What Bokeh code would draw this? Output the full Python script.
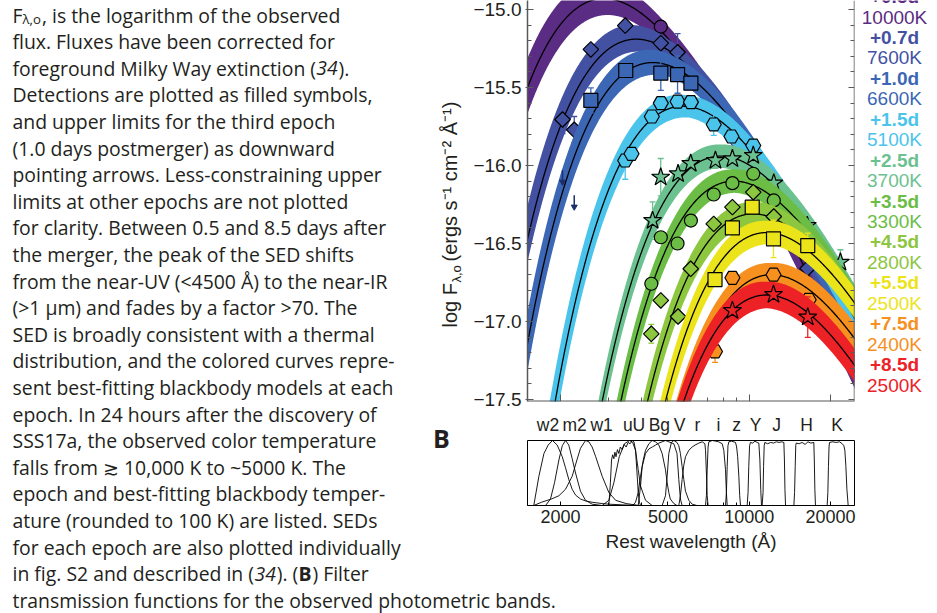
import numpy as np
from bokeh.plotting import figure
from bokeh.models import (Range1d, LinearAxis, LogAxis, FixedTicker, Label,
                          CustomJSTickFormatter, BasicTickFormatter)
from bokeh.layouts import column, row
from bokeh.embed import file_html
from bokeh.resources import INLINE

# ----------------------------------------------------------------- data
epoch_labels = ["+0.5d", "+0.7d", "+1.0d", "+1.5d", "+2.5d", "+3.5d", "+4.5d", "+5.5d", "+7.5d", "+8.5d"]
temperatures = [10000, 7600, 6600, 5100, 3700, 3300, 2800, 2500, 2400, 2500]
peak_logf = [-14.93, -15.19, -15.34, -15.62, -15.94, -16.10, -16.31, -16.43, -16.70, -16.83]
temp_low = [9700, 7450, 6450, 5000, 3650, 3250, 2750, 2450, 2350, 2450]
temp_high = [10400, 7900, 6800, 5250, 3750, 3350, 2850, 2550, 2450, 2550]
pivot_lam = [5000, 5000, 5400, 6000, 7800, 8800, 10300, 11600, 12000, 11600]
band_halfwidth = [0.08, 0.07, 0.07, 0.07, 0.075, 0.075, 0.075, 0.075, 0.075, 0.085]
epoch_colors = ["#5b2c83", "#4351a3", "#3c67b5", "#4bc4eb", "#6cc190",
                "#6bbd45", "#8dc63f", "#ece41b", "#f6901e", "#ec2227"]
epoch_markers = ["circle", "diamond", "square", "hex", "star",
                 "circle", "diamond", "square", "hex", "star"]

lam_05 = [4704]
flux_05 = [-15.11]
err_05 = [0.0]
lam_07 = [2034, 2248, 2590, 3472, 4704, 5426, 16440]
flux_07 = [-15.705, -15.771, -15.256, -15.103, -15.216, -15.274, -16.66]
err_07 = [0.09, 0.085, 0.0, 0.0, 0.0, 0.12, 0.0]
lam_10 = [2590, 3488, 4704, 5426, 6080]
flux_10 = [-15.583, -15.391, -15.408, -15.417, -15.472]
err_10 = [0.08, 0.0, 0.11, 0.12, 0.0]
ul_lam_10 = [2034, 2248]
ul_flux_10 = [-16.03, -16.19]
lam_15 = [3472, 3664, 4357, 4704, 5426, 6080, 7386, 8594, 10348]
flux_15 = [-15.968, -15.925, -15.686, -15.600, -15.590, -15.594, -15.737, -15.814, -15.872]
err_15 = [0.12, 0.0, 0.0, 0.0, 0.0, 0.0, 0.07, 0.0, 0.0]
lam_25 = [4386, 4700, 5450, 6070, 7494, 8662, 10348, 12328, 16400, 21760]
flux_25 = [-16.353, -16.075, -16.053, -15.987, -15.968, -15.957, -15.936, -16.113, -16.385, -16.62]
err_25 = [0.12, 0.12, 0.0, 0.0, 0.05, 0.08, 0.0, 0.06, 0.0, 0.08]
lam_35 = [4338, 4704, 5426, 6080, 7386, 8662, 10348, 12328]
flux_35 = [-16.758, -16.46, -16.50, -16.353, -16.186, -16.113, -16.053, -16.224]
err_35 = [0.0, 0.0, 0.0, 0.0, 0.0, 0.0, 0.0, 0.0]
lam_45 = [4338, 4704, 5450, 6070, 7386, 8662, 10348, 12328]
flux_45 = [-17.079, -16.865, -16.968, -16.662, -16.374, -16.267, -16.171, -16.327]
err_45 = [0.06, 0.0, 0.0, 0.0, 0.0, 0.0, 0.0, 0.0]
lam_55 = [7468, 8662, 10258, 12300, 16470]
flux_55 = [-16.731, -16.40, -16.267, -16.47, -16.513]
err_55 = [0.0, 0.0, 0.0, 0.12, 0.08]
lam_75 = [7468, 8662, 12300, 16600]
flux_75 = [-17.192, -16.72, -16.70, -16.861]
err_75 = [0.07, 0.0, 0.0, 0.0]
lam_85 = [8662, 12300, 16470]
flux_85 = [-16.93, -16.827, -16.972]
err_85 = [0.0, 0.0, 0.13]

ytick_values = [-17.5, -17.0, -16.5, -16.0, -15.5, -15.0]

band_names = ["w2", "m2", "w1", "u", "U", "B", "g", "V", "r", "i", "z", "Y", "J", "H", "K"]
band_label_lam = [1798, 2254, 2838, 3550, 3900, 4460, 4880, 5518, 6434, 7694, 8972, 10552, 12619, 16302, 21140]

f_w2_lam = [1592, 1663, 1736, 1800, 1867, 1944, 2030, 2087, 2146, 2209, 2273, 2371, 2475, 2619, 2853, 3020, 3400, 3880]
f_w2_tr = [0, 0.45, 0.8, 0.93, 1.0, 0.93, 0.75, 0.58, 0.4, 0.25, 0.16, 0.1, 0.07, 0.05, 0.03, 0.02, 0.01, 0]
f_m2_lam = [1760, 1836, 1900, 1972, 2030, 2087, 2146, 2209, 2273, 2371, 2475, 2619, 2853]
f_m2_tr = [0, 0.1, 0.35, 0.7, 0.92, 1.0, 0.93, 0.72, 0.5, 0.22, 0.08, 0.02, 0]
f_w1_lam = [1592, 1700, 1850, 1972, 2087, 2209, 2300, 2371, 2475, 2546, 2619, 2700, 2853, 3020, 3200, 3500, 3900]
f_w1_tr = [0, 0.05, 0.1, 0.15, 0.25, 0.45, 0.7, 0.88, 1.0, 0.98, 0.9, 0.75, 0.45, 0.2, 0.08, 0.03, 0]
f_u_lam = [3020, 3060, 3090, 3120, 3152, 3180, 3210, 3250, 3290, 3330, 3384, 3440, 3500, 3560, 3620, 3686, 3740, 3792, 3840, 3880, 3920, 3957]
f_u_tr = [0, 0.35, 0.7, 0.78, 0.72, 0.82, 0.75, 0.86, 0.8, 0.9, 0.86, 0.94, 0.9, 0.97, 0.95, 1.0, 0.98, 0.85, 0.5, 0.2, 0.05, 0]
f_U_lam = [2853, 3020, 3152, 3300, 3450, 3600, 3700, 3792, 3880, 3957, 4129, 4371]
f_U_tr = [0, 0.08, 0.35, 0.75, 0.95, 1.0, 0.97, 0.85, 0.55, 0.3, 0.08, 0]
f_B_lam = [3700, 3792, 3880, 3957, 4050, 4129, 4248, 4371, 4500, 4626, 4758, 4895, 4966, 5036, 5100, 5256, 5400]
f_B_tr = [0, 0.05, 0.2, 0.45, 0.7, 0.85, 0.95, 1.0, 0.98, 0.93, 0.8, 0.55, 0.35, 0.2, 0.1, 0.03, 0]
f_g_lam = [3880, 3957, 4013, 4129, 4248, 4371, 4500, 4626, 4758, 4895, 5036, 5256, 5400, 5484, 5560, 5642]
f_g_tr = [0, 0.3, 0.6, 0.8, 0.87, 0.9, 0.93, 0.96, 0.98, 1.0, 0.98, 0.95, 0.8, 0.4, 0.1, 0]
f_V_lam = [4758, 4895, 4966, 5036, 5150, 5256, 5400, 5484, 5560, 5642, 5723, 5806, 5973, 6146, 6400]
f_V_tr = [0, 0.15, 0.45, 0.8, 0.97, 1.0, 0.97, 0.92, 0.8, 0.6, 0.4, 0.22, 0.08, 0.02, 0]
f_r_lam = [5484, 5560, 5642, 5723, 5806, 5973, 6146, 6300, 6506, 6700, 6850, 6888, 6940, 6987, 7040]
f_r_tr = [0, 0.15, 0.4, 0.62, 0.75, 0.85, 0.9, 0.93, 0.96, 0.98, 0.95, 0.85, 0.5, 0.15, 0]
f_i_lam = [6888, 6940, 6987, 7040, 7087, 7300, 7500, 7700, 7941, 8050, 8168, 8230, 8286]
f_i_tr = [0, 0.15, 0.55, 0.9, 0.98, 1.0, 0.99, 0.98, 0.95, 0.85, 0.55, 0.2, 0]
f_z_lam = [8168, 8230, 8286, 8340, 8405, 8600, 8895, 8980, 9060, 9151, 9220, 9283]
f_z_tr = [0, 0.2, 0.6, 0.92, 0.98, 0.99, 0.97, 0.9, 0.75, 0.45, 0.15, 0]
f_Y_lam = [9825, 9900, 9960, 10030, 10104, 10300, 10500, 10700, 10853, 10950, 11030, 11101]
f_Y_tr = [0, 0.2, 0.6, 0.92, 0.97, 0.96, 0.99, 0.97, 0.96, 0.7, 0.25, 0]
f_J_lam = [11164, 11250, 11300, 11360, 11422, 11700, 12000, 12300, 12600, 12900, 13200, 13435, 13500, 13560, 13628]
f_J_tr = [0, 0.2, 0.6, 0.92, 0.97, 0.95, 0.97, 0.96, 0.98, 0.97, 0.98, 0.97, 0.7, 0.25, 0]
f_H_lam = [14632, 14720, 14800, 14870, 14924, 15300, 15700, 16100, 16500, 16900, 17345, 17420, 17500, 17592]
f_H_tr = [0, 0.2, 0.6, 0.92, 0.96, 0.95, 0.97, 0.94, 0.98, 0.96, 0.97, 0.7, 0.25, 0]
f_K_lam = [19436, 19550, 19650, 19750, 19830, 20400, 21000, 21600, 22100, 22410, 22600, 22800, 23000, 23253]
f_K_tr = [0, 0.2, 0.6, 0.9, 0.97, 0.98, 0.97, 0.98, 0.95, 0.92, 0.85, 0.6, 0.25, 0]

caption_lines = [
    [("F", ""), ("λ,o", "sub"), (", is the logarithm of the observed", "")],
    "flux. Fluxes have been corrected for",
    [("foreground Milky Way extinction (", ""), ("34", "italic"), (").", "")],
    "Detections are plotted as filled symbols,",
    "and upper limits for the third epoch",
    "(1.0 days postmerger) as downward",
    "pointing arrows. Less-constraining upper",
    "limits at other epochs are not plotted",
    "for clarity. Between 0.5 and 8.5 days after",
    "the merger, the peak of the SED shifts",
    "from the near-UV (<4500 Å) to the near-IR",
    "(>1 µm) and fades by a factor >70. The",
    "SED is broadly consistent with a thermal",
    "distribution, and the colored curves repre-",
    "sent best-fitting blackbody models at each",
    "epoch. In 24 hours after the discovery of",
    "SSS17a, the observed color temperature",
    "falls from ≳ 10,000 K to ~5000 K. The",
    "epoch and best-fitting blackbody temper-",
    "ature (rounded to 100 K) are listed. SEDs",
    "for each epoch are also plotted individually",
    [("in fig. S2 and described in (", ""), ("34", "italic"), ("). (", ""), ("B", "bold"), (") Filter", "")],
    "transmission functions for the observed photometric bands.",
]

# ----------------------------------------------------------------- layout constants (page px)
XMIN, XMAX = 1509.0, 24540.0
YMIN, YMAX = -17.5128, -14.9423
INK = "#231f20"
AXC = "#58595b"
FONT_TXT = "Open Sans"
FONT_AX = "Liberation Sans"
CAP_SIZE = 19.4
W_PAGE, H_PAGE = 937, 613
SPLIT_X = 470          # caption column | plots
LAB_X = 856            # main plot | right labels
MAIN_H = 411
TOP_H = 560            # above the last two caption lines
FIRST_BOTTOM_LINE = 21
NO_LABEL = CustomJSTickFormatter(code="return '';")


def text_fig(w, h):
    t = figure(width=w, height=h, x_range=Range1d(0, w), y_range=Range1d(h, 0),
               output_backend="svg", toolbar_location=None, min_border=0,
               x_axis_location=None, y_axis_location=None)
    t.outline_line_color = None
    t.grid.visible = False
    return t


# ----------------------------------------------------------------- main SED plot
p = figure(width=LAB_X - SPLIT_X, height=MAIN_H, x_axis_type="log",
           x_range=Range1d(XMIN, XMAX), y_range=Range1d(YMIN, YMAX),
           output_backend="svg", toolbar_location=None,
           min_border_left=527 - SPLIT_X, min_border_right=2, min_border_top=0,
           min_border_bottom=MAIN_H - 401)
p.outline_line_color = None
p.grid.visible = False

minor_y = [round(v, 1) for v in np.arange(-17.5, -14.95, 0.1) if round(v, 1) not in ytick_values]

xa = p.xaxis[0]
xa.fixed_location = YMIN
xa.ticker = FixedTicker(ticks=[2000, 10000, 20000], minor_ticks=[3000, 4000, 5000, 6000, 7000, 8000, 9000])
xa.formatter = NO_LABEL
xa.major_tick_in = 7
xa.major_tick_out = 0
xa.minor_tick_in = 4
xa.minor_tick_out = 0
xa.axis_line_color = AXC
xa.axis_line_width = 2
xa.major_tick_line_color = AXC
xa.minor_tick_line_color = AXC

ya = p.yaxis[0]
ya.ticker = FixedTicker(ticks=ytick_values, minor_ticks=minor_y)
ya.formatter = CustomJSTickFormatter(code="return '\u2212' + Math.abs(tick).toFixed(1);")
ya.major_label_text_font = FONT_AX
ya.major_label_text_font_size = "19px"
ya.major_label_text_color = INK
ya.major_tick_in = 6
ya.major_tick_out = 2
ya.minor_tick_in = 4
ya.minor_tick_out = 0
ya.major_label_standoff = 4
ya.axis_line_color = AXC
ya.axis_line_width = 1.5
ya.major_tick_line_color = AXC
ya.minor_tick_line_color = AXC

ra = LinearAxis(ticker=FixedTicker(ticks=ytick_values, minor_ticks=minor_y), formatter=NO_LABEL,
                fixed_location=XMAX, major_tick_in=6, major_tick_out=0,
                minor_tick_in=4, minor_tick_out=0, axis_line_color=AXC, axis_line_width=1.5,
                major_tick_line_color=AXC, minor_tick_line_color=AXC, major_label_standoff=0)
p.add_layout(ra, "right")

C2 = 1.4388e8
WIEN = 2.8978e7


def log_planck(lam, T):
    lam = np.asarray(lam, dtype=float)
    return -5 * np.log10(lam) - np.log10(np.expm1(C2 / (lam * T)))


grid = np.logspace(np.log10(XMIN * 0.97), np.log10(XMAX * 1.03), 500)

obs = [(lam_05, flux_05, err_05), (lam_07, flux_07, err_07), (lam_10, flux_10, err_10),
       (lam_15, flux_15, err_15), (lam_25, flux_25, err_25), (lam_35, flux_35, err_35),
       (lam_45, flux_45, err_45), (lam_55, flux_55, err_55), (lam_75, flux_75, err_75),
       (lam_85, flux_85, err_85)]


def draw_markers(lam, flux, kind, color):
    common = dict(fill_color=color, line_color="black", line_width=1.2)
    if kind == "diamond":
        p.scatter(lam, flux, marker="square", angle=np.pi / 4, size=11, **common)
    elif kind == "square":
        p.scatter(lam, flux, marker="square", size=14, **common)
    elif kind == "circle":
        p.scatter(lam, flux, marker="circle", size=13, **common)
    elif kind == "hex":
        p.scatter(lam, flux, marker="hex", size=15, **common)
    elif kind == "star":
        p.scatter(lam, flux, marker="star", size=19, **common)


for i in range(len(temperatures)):
    T = temperatures[i]
    off = peak_logf[i] - log_planck(WIEN / T, T)
    model = log_planck(grid, T) + off
    at_piv = log_planck(pivot_lam[i], T) + off
    curves = [model]
    for Tp in np.linspace(temp_low[i], temp_high[i], 9):
        curves.append(log_planck(grid, Tp) - log_planck(pivot_lam[i], Tp) + at_piv)
    curves = np.array(curves)
    lo = curves.min(axis=0) - band_halfwidth[i]
    hi = curves.max(axis=0) + band_halfwidth[i]
    col = epoch_colors[i]
    p.varea(x=grid, y1=lo, y2=hi, fill_color=col)
    p.line(grid, model, line_color="black", line_width=1.3)

    lam, flux, err = obs[i]
    el = [l for l, e in zip(lam, err) if e > 0]
    ef = [v for v, e in zip(flux, err) if e > 0]
    ee = [e for e in err if e > 0]
    if el:
        y0 = [v - e for v, e in zip(ef, ee)]
        y1 = [v + e for v, e in zip(ef, ee)]
        p.segment(x0=el, y0=y0, x1=el, y1=y1, line_color=col, line_width=1.3)
        p.scatter(el + el, y0 + y1, marker="dash", size=6, line_color=col, line_width=1.3)
    if i == 2:
        tail = [v - 0.075 for v in ul_flux_10]
        p.segment(x0=ul_lam_10, y0=ul_flux_10, x1=ul_lam_10, y1=tail, line_color="#1d2f6b", line_width=1.5)
        p.scatter(ul_lam_10, tail, marker="inverted_triangle", size=6, fill_color="#1d2f6b",
                  line_color="#1d2f6b")
    draw_markers(lam, flux, epoch_markers[i], col)

# ----------------------------------------------------------------- right-hand labels
labs = text_fig(W_PAGE - LAB_X, MAIN_H)
LAB_CX = 894 - LAB_X
for i in range(len(temperatures)):
    yc_ep = 17 + 20.95 * (2 * i - 1)
    yc_t = 17 + 20.95 * (2 * i)
    labs.add_layout(Label(x=LAB_CX, y=yc_ep, text=epoch_labels[i], text_font=FONT_AX,
                          text_font_size="19px", text_font_style="bold", text_color=epoch_colors[i],
                          text_align="center", text_baseline="middle"))
    labs.add_layout(Label(x=LAB_CX, y=yc_t, text=f"{temperatures[i]}K", text_font=FONT_AX,
                          text_font_size="19px", text_color=epoch_colors[i],
                          text_align="center", text_baseline="middle"))

# ----------------------------------------------------------------- filter panel
FILT_H = TOP_H - MAIN_H
f = figure(width=W_PAGE - SPLIT_X, height=FILT_H, x_axis_type="log",
           x_range=p.x_range, y_range=Range1d(0, 1.0), y_axis_location=None,
           output_backend="svg", toolbar_location=None,
           min_border_left=527 - SPLIT_X, min_border_right=W_PAGE - 854,
           min_border_top=440 - MAIN_H, min_border_bottom=TOP_H - 505)
f.grid.visible = False
f.outline_line_color = "black"
f.outline_line_width = 1

fx = f.xaxis[0]
fx.ticker = FixedTicker(ticks=[2000, 5000, 10000, 20000], minor_ticks=[3000, 4000, 6000, 7000, 8000, 9000])
fx.formatter = BasicTickFormatter(use_scientific=False)
fx.major_label_text_font = FONT_AX
fx.major_label_text_font_size = "18px"
fx.major_label_text_color = INK
fx.major_tick_in = 4
fx.major_tick_out = 0
fx.minor_tick_in = 3
fx.minor_tick_out = 0
fx.major_label_standoff = 4
fx.axis_line_color = "black"
fx.axis_label = "Rest wavelength (Å)"
fx.axis_label_text_font = FONT_AX
fx.axis_label_text_font_size = "19px"
fx.axis_label_text_font_style = "normal"
fx.axis_label_text_color = INK
fx.axis_label_standoff = 5

band_axis = LogAxis(ticker=FixedTicker(ticks=band_label_lam, minor_ticks=[]),
                    major_label_overrides=dict(zip(band_label_lam, band_names)),
                    major_tick_in=0, major_tick_out=0, minor_tick_in=0, minor_tick_out=0,
                    axis_line_color=None, major_label_standoff=6,
                    major_label_text_font=FONT_AX, major_label_text_font_size="17.5px",
                    major_label_text_color=INK)
f.add_layout(band_axis, "above")

filters = [(f_w2_lam, f_w2_tr), (f_m2_lam, f_m2_tr), (f_w1_lam, f_w1_tr), (f_u_lam, f_u_tr),
           (f_U_lam, f_U_tr), (f_B_lam, f_B_tr), (f_g_lam, f_g_tr), (f_V_lam, f_V_tr),
           (f_r_lam, f_r_tr), (f_i_lam, f_i_tr), (f_z_lam, f_z_tr), (f_Y_lam, f_Y_tr),
           (f_J_lam, f_J_tr), (f_H_lam, f_H_tr), (f_K_lam, f_K_tr)]
for fl, ft in filters:
    f.line(fl, ft, line_color="black", line_width=0.9)

# ----------------------------------------------------------------- caption column
cap = text_fig(SPLIT_X, TOP_H)
last = text_fig(W_PAGE, H_PAGE - TOP_H)

OS_W = {' ': 0.26, '(': 0.296, ')': 0.296, ',': 0.245, '.': 0.266, '-': 0.322,
        'a': 0.556, 'b': 0.613, 'c': 0.48, 'd': 0.613, 'e': 0.561, 'f': 0.336, 'g': 0.546,
        'h': 0.614, 'i': 0.253, 'k': 0.526, 'l': 0.253, 'm': 0.93, 'n': 0.614, 'o': 0.602,
        'p': 0.613, 'r': 0.409, 's': 0.477, 't': 0.353, 'u': 0.614, 'v': 0.5, 'w': 0.774,
        'x': 0.524, 'y': 0.5, 'S': 0.549, 'M': 0.903, 'W': 0.922, 'F': 0.516, 'B': 0.69,
        '2': 0.572, '3': 0.572, '4': 0.572, 'λ': 0.55}


def text_width(s, size):
    return sum(OS_W.get(ch, 0.55) for ch in s) * size


LINE_H = 26.6
BASE0 = 14.65
for k, line in enumerate(caption_lines):
    base = BASE0 + LINE_H * k
    if k < FIRST_BOTTOM_LINE:
        fig, yoff = cap, 0
    else:
        fig, yoff = last, TOP_H
    segs = [(line, "")] if isinstance(line, str) else line
    xs = 12.0
    for txt, sty in segs:
        size = CAP_SIZE * 0.68 if sty == "sub" else CAP_SIZE
        yb = base + 4 if sty == "sub" else base
        style = {"italic": "italic", "bold": "bold"}.get(sty, "normal")
        fig.add_layout(Label(x=xs, y=yb - yoff, text=txt, text_font=FONT_TXT,
                             text_font_size=f"{size:.1f}px", text_font_style=style,
                             text_color=INK, text_align="left", text_baseline="alphabetic"))
        xs += text_width(txt, size) * (1.05 if sty == "bold" else 1.0) + (1.0 if sty == "sub" else 0.0)

# y-axis title of the SED panel (rotated), sits in the caption column
cap.add_layout(Label(x=449, y=327, text="log F", angle=np.pi / 2, text_font=FONT_AX,
                     text_font_size="20px", text_color=INK, text_align="left", text_baseline="middle"))
cap.add_layout(Label(x=456, y=282, text="λ,o", angle=np.pi / 2, text_font=FONT_AX,
                     text_font_size="13px", text_color=INK, text_align="left", text_baseline="middle"))
cap.add_layout(Label(x=449, y=261, text="(ergs s\u207b\u00b9 cm\u207b\u00b2 \u00c5\u207b\u00b9)",
                     angle=np.pi / 2, text_font=FONT_AX, text_font_size="20px", text_color=INK,
                     text_align="left", text_baseline="middle"))
# panel letter
cap.add_layout(Label(x=441, y=437, text="B", text_font=FONT_TXT, text_font_size="25px",
                     text_font_style="bold", text_color=INK, text_align="center",
                     text_baseline="middle"))

layout = column(row(cap, column(row(p, labs), f)), last)
open("out.html", "w").write(file_html(layout, INLINE))
